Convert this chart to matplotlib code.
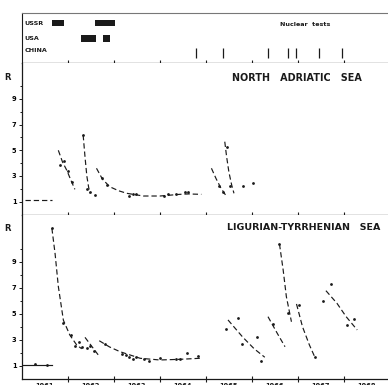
import numpy as np
import matplotlib
matplotlib.use("Agg")
import matplotlib.pyplot as plt

# --- data ---
years = [1961, 1962, 1963, 1964, 1965, 1966, 1967, 1968]

# nuclear test periods (start, end) in decimal years
ussr_tests = [(1961.65, 1961.92), (1962.59, 1963.02)]
usa_tests = [(1962.28, 1962.60), (1962.76, 1962.91)]
china_tests = [1964.78, 1965.37, 1966.35, 1966.78, 1966.95, 1967.45, 1967.95]

# North Adriatic Sea: measured points
na_x = [1961.83, 1961.92, 1962.00, 1962.08, 1962.33, 1962.41, 1962.48, 1962.59,
        1962.73, 1962.84, 1963.33, 1963.42, 1963.49, 1964.09, 1964.18, 1964.35,
        1964.54, 1964.62, 1965.29, 1965.38, 1965.45, 1965.52, 1965.81, 1966.03]
na_r = [3.85, 4.16, 3.38, 2.55, 6.19, 1.96, 1.78, 1.52,
        2.81, 2.30, 1.44, 1.57, 1.57, 1.44, 1.57, 1.57,
        1.78, 1.73, 2.22, 1.78, 5.28, 2.22, 2.22, 2.43]
# North Adriatic Sea: hand drawn decay curves
na_base = ([1961.07, 1961.65], [1.13, 1.13])
na_curves = [
    ([1961.79, 1961.88, 1961.98, 1962.06, 1962.15], [5.0, 4.1, 3.4, 2.7, 1.96]),
    ([1962.33, 1962.37, 1962.41, 1962.45, 1962.48], [6.19, 4.5, 3.0, 2.1, 1.65]),
    ([1962.62, 1962.75, 1962.91, 1963.10, 1963.28, 1963.64, 1964.00, 1964.43, 1964.62, 1964.90],
     [3.6, 2.75, 2.16, 1.85, 1.65, 1.44, 1.44, 1.57, 1.60, 1.57]),
    ([1965.12, 1965.22, 1965.32, 1965.45], [3.6, 2.8, 2.1, 1.39]),
    ([1965.41, 1965.45, 1965.50, 1965.56, 1965.61], [5.67, 4.5, 3.3, 2.3, 1.65]),
]

# Ligurian-Tyrrhenian Sea: measured points
lt_x = [1961.28, 1961.54, 1961.65, 1961.90, 1962.06, 1962.15, 1962.25, 1962.30,
        1962.41, 1962.48, 1962.57, 1962.80, 1963.17, 1963.26, 1963.33, 1963.41,
        1963.49, 1963.65, 1963.77, 1964.00, 1964.35, 1964.43, 1964.58, 1964.83,
        1965.43, 1965.70, 1965.78, 1966.12, 1966.20, 1966.45, 1966.60, 1966.79,
        1967.02, 1967.37, 1967.55, 1967.71, 1968.06, 1968.22]
lt_r = [1.10, 1.05, 11.57, 4.30, 3.36, 2.52, 2.85, 2.46,
        2.38, 2.52, 2.13, 2.67, 1.90, 1.82, 1.69, 1.49,
        1.69, 1.49, 1.38, 1.57, 1.49, 1.49, 1.95, 1.75,
        3.80, 4.64, 2.67, 3.23, 1.36, 4.18, 10.36, 5.08,
        5.67, 1.65, 5.98, 7.26, 4.13, 4.57]
lt_base = ([1961.0, 1961.65], [1.05, 1.05])
lt_curves = [
    ([1961.65, 1961.72, 1961.79, 1961.90, 1962.04, 1962.19, 1962.30],
     [11.57, 9.6, 7.1, 4.5, 3.36, 2.59, 2.3]),
    ([1962.37, 1962.66], [3.18, 1.82]),
    ([1962.68, 1962.90, 1963.13, 1963.57, 1964.00, 1964.43, 1964.87],
     [2.92, 2.45, 2.08, 1.57, 1.44, 1.49, 1.57]),
    ([1965.48, 1965.80, 1966.05, 1966.28], [4.52, 3.2, 2.3, 1.65]),
    ([1966.35, 1966.55, 1966.72], [4.77, 3.5, 2.46]),
    ([1966.60, 1966.68, 1966.75, 1966.86], [10.36, 8.36, 6.3, 4.38]),
    ([1966.97, 1967.10, 1967.25, 1967.37], [5.75, 4.0, 2.6, 1.65]),
    ([1967.61, 1967.85, 1968.05, 1968.29], [6.77, 5.8, 4.77, 3.75]),
]

INK = "#1a1a1a"
XMIN, XMAX = 1961.0, 1968.96
plt.rcParams["font.family"] = "DejaVu Sans"
plt.rcParams["font.weight"] = "bold"

fig = plt.figure(figsize=(3.88, 3.85), dpi=100)
L = 22 / 388
ax0 = fig.add_axes([L, 1 - 63 / 385, 1 - L, 50 / 385])
ax1 = fig.add_axes([L, 1 - 214.5 / 385, 1 - L, 151.5 / 385])
ax2 = fig.add_axes([L, 1 - 378.7 / 385, 1 - L, 164.2 / 385])

# --- nuclear tests strip ---
ax0.set_xlim(XMIN, XMAX)
ax0.set_ylim(50, 0)
ax0.spines["right"].set_visible(False)
ax0.spines["top"].set_color("#777777")
ax0.spines["top"].set_linewidth(0.8)
ax0.spines["left"].set_color(INK)
ax0.spines["left"].set_linewidth(0.8)
ax0.spines["bottom"].set_color(INK)
ax0.spines["bottom"].set_linewidth(0.9)
ax0.set_yticks([])
ax0.set_xticks(years[1:])
ax0.set_xticklabels([])
ax0.tick_params(axis="x", direction="inout", length=5, width=0.8, color=INK)
for a, b in ussr_tests:
    ax0.fill_between([a, b], 7.5, 13.5, color=INK, lw=0)
for a, b in usa_tests:
    ax0.fill_between([a, b], 22, 28.5, color=INK, lw=0)
ax0.vlines(china_tests, 35, 45, color=INK, lw=0.9)
for lab, yy in [("USSR", 10.5), ("USA", 25.3), ("CHINA", 37)]:
    ax0.text(1961.05, yy, lab, fontsize=4.6, va="center", ha="left", color=INK)
ax0.text(1967.15, 12, "Nuclear  tests", fontsize=4.6, va="center", ha="center", color=INK)
for y in years:
    ax0.text(y + 0.5, 53, str(y), fontsize=4.8, ha="center", va="top", color=INK, clip_on=False)


def panel(ax, top, xs, rs, base, curves, base_style, title, title_x, title_y, title_size):
    ax.set_xlim(XMIN, XMAX)
    ax.set_ylim(0, top)
    ax.spines["top"].set_visible(False)
    ax.spines["right"].set_visible(False)
    for s in ["left", "bottom"]:
        ax.spines[s].set_color(INK)
        ax.spines[s].set_linewidth(0.9)
    ax.set_xticks(years[1:])
    ax.set_xticklabels([])
    ax.tick_params(axis="x", direction="inout", length=5, width=0.8, color=INK)
    ax.set_yticks([1, 3, 5, 7, 9])
    ax.set_yticks([2, 4, 6, 8, 10], minor=True)
    ax.tick_params(axis="y", which="both", direction="out", length=2.5, width=0.7,
                   color=INK, labelsize=4.8, pad=1.5, right=True, labelright=False)
    ax.tick_params(axis="y", which="minor", length=1.5, right=False)
    ax.text(-0.03, top - 1.1, "R", transform=ax.get_yaxis_transform(), fontsize=6,
            ha="right", va="center", color=INK)
    ax.plot(base[0], base[1], color=INK, lw=0.85, **base_style)
    for cx, cr in curves:
        ax.plot(cx, cr, color=INK, lw=0.85, dashes=(4.5, 2.5))
    ax.plot(xs, rs, "o", ms=2.0, color=INK, mec="none")
    ax.text(title_x, title_y, title, transform=ax.get_yaxis_transform(),
            fontsize=title_size, ha="right", va="center", color=INK)


panel(ax1, 11.8, na_x, na_r, na_base, na_curves, dict(dashes=(4.5, 2.5)),
      "NORTH   ADRIATIC   SEA", 0.929, 10.6, 6.9)
panel(ax2, 12.63, lt_x, lt_r, lt_base, lt_curves, dict(ls="-"),
      "LIGURIAN-TYRRHENIAN   SEA", 0.978, 11.6, 6.8)
for y in years:
    ax2.text(y + 0.5, -0.3, str(y), fontsize=4.8, ha="center", va="top", color=INK, clip_on=False)

fig.savefig("out.png", dpi=100)
